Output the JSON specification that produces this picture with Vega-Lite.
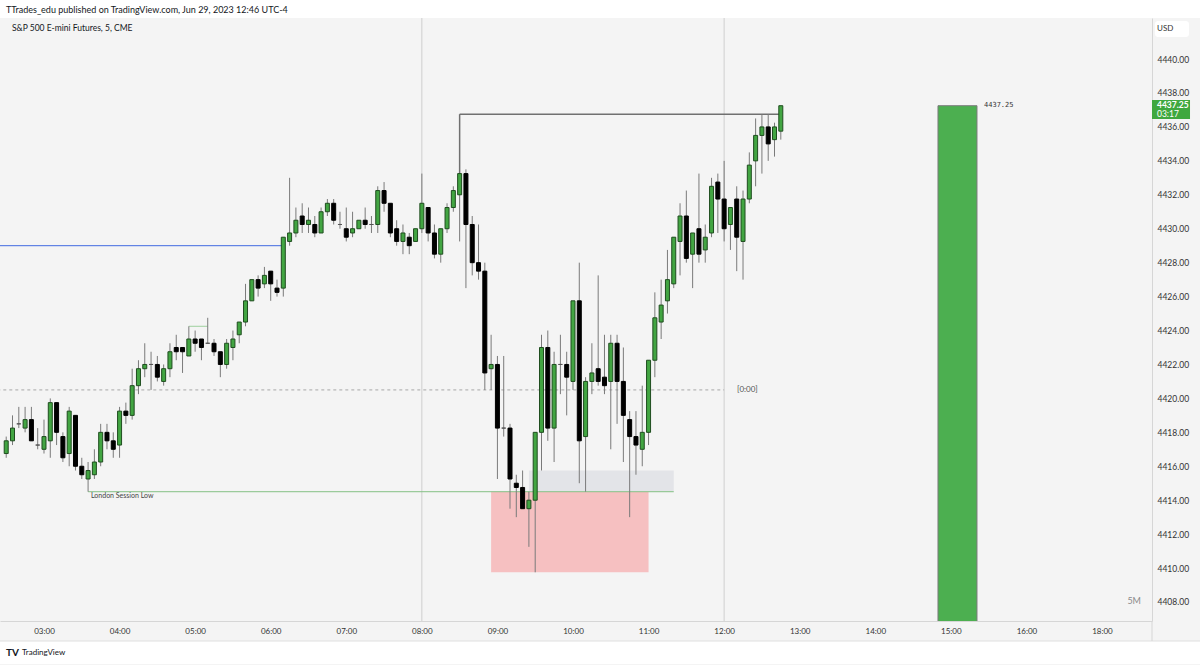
{
"$schema":"https://vega.github.io/schema/vega-lite/v6.json",
"width":1152,"height":603,
"autosize":{"type":"none"},
"padding":{"left":0,"top":18,"right":48,"bottom":44},
"background":"#f4f4f4",
"config":{"view":{"stroke":null},"font":"Lato"},
"datasets":{
"bars":[
{"t":"2023-06-29T02:30","o":4416.75,"h":4417.75,"l":4416.5,"c":4417.5},
{"t":"2023-06-29T02:35","o":4417.5,"h":4419,"l":4417.25,"c":4418.25},
{"t":"2023-06-29T02:40","o":4418.5,"h":4419.5,"l":4418.25,"c":4418.5},
{"t":"2023-06-29T02:45","o":4418.25,"h":4419.5,"l":4418,"c":4418.75},
{"t":"2023-06-29T02:50","o":4418.75,"h":4419.5,"l":4417.5,"c":4417.5},
{"t":"2023-06-29T02:55","o":4417.25,"h":4418.25,"l":4417,"c":4417.25},
{"t":"2023-06-29T03:00","o":4417,"h":4418.75,"l":4416.75,"c":4417.75},
{"t":"2023-06-29T03:05","o":4417.5,"h":4420,"l":4416.5,"c":4419.75},
{"t":"2023-06-29T03:10","o":4419.75,"h":4419.75,"l":4417.25,"c":4418},
{"t":"2023-06-29T03:15","o":4417.75,"h":4418,"l":4416.25,"c":4416.5},
{"t":"2023-06-29T03:20","o":4416.75,"h":4419.5,"l":4416,"c":4419.25},
{"t":"2023-06-29T03:25","o":4419,"h":4419,"l":4415.75,"c":4416},
{"t":"2023-06-29T03:30","o":4416,"h":4416.5,"l":4415.25,"c":4415.5},
{"t":"2023-06-29T03:35","o":4415.25,"h":4416.25,"l":4414.5,"c":4415.75},
{"t":"2023-06-29T03:40","o":4415.5,"h":4417,"l":4415.25,"c":4416.25},
{"t":"2023-06-29T03:45","o":4416.25,"h":4418.5,"l":4416,"c":4418},
{"t":"2023-06-29T03:50","o":4418,"h":4418.5,"l":4417,"c":4417.5},
{"t":"2023-06-29T03:55","o":4417.5,"h":4418,"l":4416.5,"c":4417},
{"t":"2023-06-29T04:00","o":4417.25,"h":4419.5,"l":4416.5,"c":4419.25},
{"t":"2023-06-29T04:05","o":4419.25,"h":4419.75,"l":4418.5,"c":4419},
{"t":"2023-06-29T04:10","o":4419,"h":4421.75,"l":4418.75,"c":4420.75},
{"t":"2023-06-29T04:15","o":4420.75,"h":4422.25,"l":4420.25,"c":4421.75},
{"t":"2023-06-29T04:20","o":4421.75,"h":4423.25,"l":4421.25,"c":4422},
{"t":"2023-06-29T04:25","o":4422,"h":4422.75,"l":4420.5,"c":4422},
{"t":"2023-06-29T04:30","o":4422,"h":4422.5,"l":4421,"c":4421.25},
{"t":"2023-06-29T04:35","o":4421,"h":4422,"l":4420.75,"c":4421.75},
{"t":"2023-06-29T04:40","o":4421.75,"h":4423.25,"l":4421.25,"c":4422.75},
{"t":"2023-06-29T04:45","o":4423,"h":4423.75,"l":4422.25,"c":4422.75},
{"t":"2023-06-29T04:50","o":4423,"h":4423,"l":4421.5,"c":4422.75},
{"t":"2023-06-29T04:55","o":4422.5,"h":4424.25,"l":4422.5,"c":4423.5},
{"t":"2023-06-29T05:00","o":4423.5,"h":4424,"l":4422.75,"c":4423.25},
{"t":"2023-06-29T05:05","o":4423.5,"h":4423.5,"l":4422.25,"c":4423},
{"t":"2023-06-29T05:10","o":4423.25,"h":4424.75,"l":4423.25,"c":4423.25},
{"t":"2023-06-29T05:15","o":4423.25,"h":4423.5,"l":4422.5,"c":4422.75},
{"t":"2023-06-29T05:20","o":4422.75,"h":4422.75,"l":4421.25,"c":4422},
{"t":"2023-06-29T05:25","o":4422,"h":4423.5,"l":4421.75,"c":4423.25},
{"t":"2023-06-29T05:30","o":4423,"h":4424,"l":4422.25,"c":4423.5},
{"t":"2023-06-29T05:35","o":4423.75,"h":4424.5,"l":4423.25,"c":4424.5},
{"t":"2023-06-29T05:40","o":4424.5,"h":4426.75,"l":4424.25,"c":4425.75},
{"t":"2023-06-29T05:45","o":4425.75,"h":4427,"l":4425.75,"c":4427},
{"t":"2023-06-29T05:50","o":4427,"h":4427.25,"l":4426,"c":4426.5},
{"t":"2023-06-29T05:55","o":4426.75,"h":4427.75,"l":4426.5,"c":4427.25},
{"t":"2023-06-29T06:00","o":4427.5,"h":4427.5,"l":4425.75,"c":4426.75},
{"t":"2023-06-29T06:05","o":4426.5,"h":4427,"l":4426,"c":4426.25},
{"t":"2023-06-29T06:10","o":4426.5,"h":4429.5,"l":4426,"c":4429.5},
{"t":"2023-06-29T06:15","o":4429.25,"h":4433,"l":4429,"c":4429.75},
{"t":"2023-06-29T06:20","o":4429.75,"h":4431.25,"l":4429.5,"c":4430.5},
{"t":"2023-06-29T06:25","o":4430.75,"h":4431.5,"l":4429.75,"c":4430.25},
{"t":"2023-06-29T06:30","o":4430.25,"h":4431.25,"l":4429.75,"c":4430.5},
{"t":"2023-06-29T06:35","o":4430.25,"h":4430.75,"l":4429.5,"c":4429.75},
{"t":"2023-06-29T06:40","o":4429.75,"h":4431.25,"l":4429.75,"c":4431},
{"t":"2023-06-29T06:45","o":4431,"h":4431.75,"l":4430.75,"c":4431.5},
{"t":"2023-06-29T06:50","o":4431.5,"h":4431.75,"l":4430.25,"c":4430.5},
{"t":"2023-06-29T06:55","o":4430.25,"h":4431,"l":4430,"c":4430.25},
{"t":"2023-06-29T07:00","o":4430,"h":4431.25,"l":4429.25,"c":4429.5},
{"t":"2023-06-29T07:05","o":4429.75,"h":4431,"l":4429.5,"c":4430},
{"t":"2023-06-29T07:10","o":4430,"h":4430.5,"l":4430,"c":4430.5},
{"t":"2023-06-29T07:15","o":4430.5,"h":4431.25,"l":4430,"c":4430.25},
{"t":"2023-06-29T07:20","o":4430.25,"h":4430.75,"l":4429.75,"c":4430.25},
{"t":"2023-06-29T07:25","o":4430.25,"h":4432.5,"l":4429.75,"c":4432.25},
{"t":"2023-06-29T07:30","o":4432.25,"h":4432.75,"l":4431,"c":4431.5},
{"t":"2023-06-29T07:35","o":4431.5,"h":4431.5,"l":4429.5,"c":4429.75},
{"t":"2023-06-29T07:40","o":4430,"h":4430.5,"l":4429,"c":4429.25},
{"t":"2023-06-29T07:45","o":4429.25,"h":4430.25,"l":4428.5,"c":4429.75},
{"t":"2023-06-29T07:50","o":4429.5,"h":4429.75,"l":4428.5,"c":4429},
{"t":"2023-06-29T07:55","o":4429.25,"h":4430,"l":4429.25,"c":4430},
{"t":"2023-06-29T08:00","o":4430,"h":4433.25,"l":4429.75,"c":4431.5},
{"t":"2023-06-29T08:05","o":4431.25,"h":4431.25,"l":4429.25,"c":4429.75},
{"t":"2023-06-29T08:10","o":4429.75,"h":4430.25,"l":4428.25,"c":4428.5},
{"t":"2023-06-29T08:15","o":4428.5,"h":4430,"l":4428,"c":4430},
{"t":"2023-06-29T08:20","o":4430,"h":4431.5,"l":4429.75,"c":4431.25},
{"t":"2023-06-29T08:25","o":4431.25,"h":4432.5,"l":4431,"c":4432.25},
{"t":"2023-06-29T08:30","o":4432,"h":4433.25,"l":4429.25,"c":4433.25},
{"t":"2023-06-29T08:35","o":4433.25,"h":4433.5,"l":4426.5,"c":4430.25},
{"t":"2023-06-29T08:40","o":4430.25,"h":4430.75,"l":4427.25,"c":4428},
{"t":"2023-06-29T08:45","o":4428,"h":4430.25,"l":4427,"c":4427.5},
{"t":"2023-06-29T08:50","o":4427.5,"h":4428,"l":4420.5,"c":4421.5},
{"t":"2023-06-29T08:55","o":4421.75,"h":4423.75,"l":4420.5,"c":4422},
{"t":"2023-06-29T09:00","o":4422,"h":4422.5,"l":4415.25,"c":4418.25},
{"t":"2023-06-29T09:05","o":4418.25,"h":4422.5,"l":4417.75,"c":4418.25},
{"t":"2023-06-29T09:10","o":4418.25,"h":4418.5,"l":4413.5,"c":4415.25},
{"t":"2023-06-29T09:15","o":4415,"h":4415.5,"l":4413,"c":4414.75},
{"t":"2023-06-29T09:20","o":4414.75,"h":4415.75,"l":4413.5,"c":4413.5},
{"t":"2023-06-29T09:25","o":4413.5,"h":4414.5,"l":4411.25,"c":4414},
{"t":"2023-06-29T09:30","o":4414,"h":4418,"l":4409.75,"c":4418},
{"t":"2023-06-29T09:35","o":4418,"h":4423.75,"l":4415.75,"c":4423},
{"t":"2023-06-29T09:40","o":4423,"h":4424,"l":4417.5,"c":4418.25},
{"t":"2023-06-29T09:45","o":4418.25,"h":4422.75,"l":4416.25,"c":4422},
{"t":"2023-06-29T09:50","o":4422,"h":4423.75,"l":4420.25,"c":4422},
{"t":"2023-06-29T09:55","o":4422,"h":4422.75,"l":4419,"c":4421.25},
{"t":"2023-06-29T10:00","o":4421,"h":4425.75,"l":4420.5,"c":4425.75},
{"t":"2023-06-29T10:05","o":4425.75,"h":4428,"l":4415,"c":4417.5},
{"t":"2023-06-29T10:10","o":4417.75,"h":4421.25,"l":4414.5,"c":4421},
{"t":"2023-06-29T10:15","o":4421,"h":4423.25,"l":4420.25,"c":4421.5},
{"t":"2023-06-29T10:20","o":4421.75,"h":4427.25,"l":4420.75,"c":4421},
{"t":"2023-06-29T10:25","o":4421.25,"h":4423.75,"l":4420.25,"c":4420.75},
{"t":"2023-06-29T10:30","o":4421,"h":4423.75,"l":4417,"c":4423.25},
{"t":"2023-06-29T10:35","o":4423.25,"h":4423.75,"l":4418.5,"c":4421},
{"t":"2023-06-29T10:40","o":4421,"h":4423,"l":4416.25,"c":4419},
{"t":"2023-06-29T10:45","o":4418.75,"h":4419.25,"l":4413,"c":4417.75},
{"t":"2023-06-29T10:50","o":4417.75,"h":4419.25,"l":4415.5,"c":4417.25},
{"t":"2023-06-29T10:55","o":4417,"h":4420.75,"l":4416,"c":4418},
{"t":"2023-06-29T11:00","o":4418,"h":4422.25,"l":4417.25,"c":4422.25},
{"t":"2023-06-29T11:05","o":4422.25,"h":4426.25,"l":4421.25,"c":4424.75},
{"t":"2023-06-29T11:10","o":4424.5,"h":4427,"l":4423.5,"c":4425.5},
{"t":"2023-06-29T11:15","o":4425.75,"h":4428.75,"l":4425,"c":4427},
{"t":"2023-06-29T11:20","o":4426.75,"h":4429.5,"l":4426.5,"c":4429.5},
{"t":"2023-06-29T11:25","o":4429.25,"h":4431.5,"l":4427.25,"c":4430.75},
{"t":"2023-06-29T11:30","o":4430.75,"h":4432.25,"l":4428,"c":4428.25},
{"t":"2023-06-29T11:35","o":4428.5,"h":4429.75,"l":4426.5,"c":4429.75},
{"t":"2023-06-29T11:40","o":4430,"h":4433.25,"l":4428,"c":4428.5},
{"t":"2023-06-29T11:45","o":4428.75,"h":4430.25,"l":4428,"c":4429.5},
{"t":"2023-06-29T11:50","o":4429.75,"h":4433,"l":4429.5,"c":4432.5},
{"t":"2023-06-29T11:55","o":4432.75,"h":4433.25,"l":4429.75,"c":4431.75},
{"t":"2023-06-29T12:00","o":4431.75,"h":4434,"l":4429.25,"c":4430},
{"t":"2023-06-29T12:05","o":4430.25,"h":4431.25,"l":4428.75,"c":4431.25},
{"t":"2023-06-29T12:10","o":4431.75,"h":4432.5,"l":4427.5,"c":4429.5},
{"t":"2023-06-29T12:15","o":4429.25,"h":4432.25,"l":4427,"c":4431.75},
{"t":"2023-06-29T12:20","o":4431.75,"h":4434.5,"l":4431.5,"c":4433.75},
{"t":"2023-06-29T12:25","o":4434,"h":4436.5,"l":4432.5,"c":4435.5},
{"t":"2023-06-29T12:30","o":4435.5,"h":4436.75,"l":4433.25,"c":4436},
{"t":"2023-06-29T12:35","o":4436,"h":4436.75,"l":4434,"c":4435},
{"t":"2023-06-29T12:40","o":4435.25,"h":4436.25,"l":4434.25,"c":4436},
{"t":"2023-06-29T12:45","o":4435.75,"h":4437.25,"l":4435.25,"c":4437.25}
],
"sessions":[{"t":"2023-06-29T08:00"},{"t":"2023-06-29T12:00"}]
},
"layer":[
{"data":{"values":[{}]},"mark":{"type":"rect","color":"#ffffff","clip":false},
 "encoding":{
  "x":{"datum":{"year":2023,"month":6,"date":29,"hours":0},"type":"temporal",
   "scale":{"domain":[{"year":2023,"month":6,"date":29,"hours":2,"minutes":25,"seconds":4},{"year":2023,"month":6,"date":29,"hours":17,"minutes":39,"seconds":43}],"nice":false,"padding":0},
   "axis":{"title":null,"grid":false,"ticks":false,"tickSize":0,"labelPadding":6,"labelFontSize":8,"labelColor":"#333333","labelFont":"Lato","domainColor":"#d6d6d6","labelOverlap":false,"tickCount":40,
    "values":[{"year":2023,"month":6,"date":29,"hours":3},{"year":2023,"month":6,"date":29,"hours":4},{"year":2023,"month":6,"date":29,"hours":5},{"year":2023,"month":6,"date":29,"hours":6},{"year":2023,"month":6,"date":29,"hours":7},{"year":2023,"month":6,"date":29,"hours":8},{"year":2023,"month":6,"date":29,"hours":9},{"year":2023,"month":6,"date":29,"hours":10},{"year":2023,"month":6,"date":29,"hours":11},{"year":2023,"month":6,"date":29,"hours":12},{"year":2023,"month":6,"date":29,"hours":13},{"year":2023,"month":6,"date":29,"hours":14},{"year":2023,"month":6,"date":29,"hours":15},{"year":2023,"month":6,"date":29,"hours":16},{"year":2023,"month":6,"date":29,"hours":17}],
    "labelExpr":"hours(datum.value) == 17 ? '18:00' : timeFormat(datum.value, '%H:%M')"}},
  "x2":{"datum":{"year":2023,"month":6,"date":29,"hours":22}},
  "y":{"datum":4442.42,"type":"quantitative",
   "scale":{"domain":[4406.88,4442.42],"nice":false,"zero":false,"padding":0},
   "axis":{"title":null,"orient":"right","grid":false,"ticks":false,"tickSize":0,"labelPadding":5,"labelFontSize":8.5,"labelColor":"#333333","labelFont":"Lato","domainColor":"#d6d6d6","format":".2f","labelOverlap":false,"tickCount":40,
    "values":[4408,4410,4412,4414,4416,4418,4420,4422,4424,4426,4428,4430,4432,4434,4436,4438,4440]}},
  "y2":{"datum":4443.48}}},
{"data":{"values":[{}]},"mark":{"type":"rect","color":"#ffffff","clip":false},
 "encoding":{"x":{"datum":{"year":2023,"month":6,"date":29,"hours":0},"type":"temporal"},"x2":{"datum":{"year":2023,"month":6,"date":29,"hours":22}},"y":{"datum":4405.7,"type":"quantitative"},"y2":{"datum":4404.34}}},
{"data":{"values":[{}]},"mark":{"type":"rule","color":"#e0e0e0","clip":false},
 "encoding":{"x":{"datum":{"year":2023,"month":6,"date":29,"hours":0},"type":"temporal"},"x2":{"datum":{"year":2023,"month":6,"date":29,"hours":22}},"y":{"datum":4405.7,"type":"quantitative"}}},
{"data":{"values":[{}]},"mark":{"type":"rule","color":"#d6d6d6","clip":false},
 "encoding":{"x":{"datum":{"year":2023,"month":6,"date":29,"hours":17,"minutes":39,"seconds":43},"type":"temporal"},"y":{"datum":4406.88,"type":"quantitative"},"y2":{"datum":4405.7}}},
{"data":{"name":"sessions"},"mark":{"type":"rule","color":"#cfcfcf","strokeWidth":1},
 "encoding":{"x":{"field":"t","type":"temporal"}}},
{"data":{"values":[{}]},"mark":{"type":"rect","color":"#f6c0c1"},
 "encoding":{"x":{"datum":{"year":2023,"month":6,"date":29,"hours":8,"minutes":55},"type":"temporal"},"x2":{"datum":{"year":2023,"month":6,"date":29,"hours":11,"minutes":0}},"y":{"datum":4409.75,"type":"quantitative"},"y2":{"datum":4414.5}}},
{"data":{"values":[{}]},"mark":{"type":"rect","color":"#e3e4e8"},
 "encoding":{"x":{"datum":{"year":2023,"month":6,"date":29,"hours":9,"minutes":25},"type":"temporal"},"x2":{"datum":{"year":2023,"month":6,"date":29,"hours":11,"minutes":20}},"y":{"datum":4414.5,"type":"quantitative"},"y2":{"datum":4415.75}}},
{"data":{"values":[{}]},"mark":{"type":"rule","color":"#4169e1","strokeWidth":1,"clip":true},
 "encoding":{"x":{"datum":{"year":2023,"month":6,"date":29,"hours":0},"type":"temporal"},"x2":{"datum":{"year":2023,"month":6,"date":29,"hours":6,"minutes":10}},"y":{"datum":4429,"type":"quantitative"}}},
{"data":{"values":[{}]},"mark":{"type":"rule","color":"#a8a8a8","strokeWidth":1,"strokeDash":[3,3],"clip":true},
 "encoding":{"x":{"datum":{"year":2023,"month":6,"date":29,"hours":0},"type":"temporal"},"x2":{"datum":{"year":2023,"month":6,"date":29,"hours":12,"minutes":0}},"y":{"datum":4420.5,"type":"quantitative"}}},
{"data":{"values":[{}]},"mark":{"type":"rule","color":"#84c184","strokeWidth":1},
 "encoding":{"x":{"datum":{"year":2023,"month":6,"date":29,"hours":3,"minutes":35},"type":"temporal"},"x2":{"datum":{"year":2023,"month":6,"date":29,"hours":11,"minutes":20}},"y":{"datum":4414.5,"type":"quantitative"}}},
{"data":{"values":[{}]},"mark":{"type":"rule","color":"#9fd09f","strokeWidth":1},
 "encoding":{"x":{"datum":{"year":2023,"month":6,"date":29,"hours":4,"minutes":55},"type":"temporal"},"x2":{"datum":{"year":2023,"month":6,"date":29,"hours":5,"minutes":10}},"y":{"datum":4424.25,"type":"quantitative"}}},
{"data":{"values":[{}]},"mark":{"type":"rule","color":"#707070","strokeWidth":1.5},
 "encoding":{"x":{"datum":{"year":2023,"month":6,"date":29,"hours":8,"minutes":30},"type":"temporal"},"y":{"datum":4433.25,"type":"quantitative"},"y2":{"datum":4436.75}}},
{"data":{"values":[{}]},"mark":{"type":"rule","color":"#707070","strokeWidth":1.5},
 "encoding":{"x":{"datum":{"year":2023,"month":6,"date":29,"hours":8,"minutes":30},"type":"temporal"},"x2":{"datum":{"year":2023,"month":6,"date":29,"hours":12,"minutes":45}},"y":{"datum":4436.75,"type":"quantitative"}}},
{"data":{"values":[{}]},"mark":{"type":"rect","color":"#4caf50","stroke":"#7a7a7a","strokeWidth":1,"clip":true},
 "encoding":{"x":{"datum":{"year":2023,"month":6,"date":29,"hours":14,"minutes":49,"seconds":48},"type":"temporal"},"x2":{"datum":{"year":2023,"month":6,"date":29,"hours":15,"minutes":20,"seconds":45}},"y":{"datum":4437.25,"type":"quantitative"},"y2":{"datum":4400}}},
{"data":{"name":"bars"},
 "mark":{"type":"rule","color":"#7a7a7a","strokeWidth":1},
 "encoding":{"x":{"field":"t","type":"temporal"},"y":{"field":"l","type":"quantitative"},"y2":{"field":"h"}}},
{"data":{"name":"bars"},
 "mark":{"type":"bar","size":4,"strokeWidth":1},
 "encoding":{
  "x":{"field":"t","type":"temporal"},
  "y":{"field":"o","type":"quantitative"},
  "y2":{"field":"c"},
  "fill":{"condition":[{"test":"datum.c > datum.o","value":"#42a542"},{"test":"datum.c < datum.o","value":"#000000"}],"value":"#666666"},
  "stroke":{"condition":[{"test":"datum.c > datum.o","value":"#1f4d1f"},{"test":"datum.c < datum.o","value":"#000000"}],"value":"#555555"}}},
{"data":{"values":[{}]},"mark":{"type":"text","text":"TTrades_edu published on TradingView.com, Jun 29, 2023 12:46 UTC-4","align":"left","baseline":"middle","fontSize":9,"color":"#131722","font":"Lato","clip":false},
 "encoding":{"x":{"datum":{"year":2023,"month":6,"date":29,"hours":2,"minutes":29,"seconds":49},"type":"temporal"},"y":{"datum":4442.89,"type":"quantitative"}}},
{"data":{"values":[{}]},"mark":{"type":"text","text":"London Session Low","align":"left","baseline":"middle","fontSize":7,"color":"#444444","font":"Lato"},
 "encoding":{"x":{"datum":{"year":2023,"month":6,"date":29,"hours":3,"minutes":37,"seconds":19},"type":"temporal"},"y":{"datum":4414.22,"type":"quantitative"}}},
{"data":{"values":[{}]},"mark":{"type":"text","text":"[0:00]","align":"left","baseline":"middle","fontSize":8,"color":"#555555","font":"Lato"},
 "encoding":{"x":{"datum":{"year":2023,"month":6,"date":29,"hours":12,"minutes":10,"seconds":12},"type":"temporal"},"y":{"datum":4420.5,"type":"quantitative"}}},
{"data":{"values":[{}]},"mark":{"type":"text","text":"4437.25","align":"left","baseline":"middle","fontSize":7,"color":"#333333","font":"DejaVu Sans Mono"},
 "encoding":{"x":{"datum":{"year":2023,"month":6,"date":29,"hours":15,"minutes":26,"seconds":20},"type":"temporal"},"y":{"datum":4437.3,"type":"quantitative"}}},
{"data":{"values":[{}]},"mark":{"type":"text","text":"5M","align":"right","baseline":"middle","fontSize":9,"color":"#8a8a8a","font":"Lato"},
 "encoding":{"x":{"datum":{"year":2023,"month":6,"date":29,"hours":17,"minutes":30,"seconds":58},"type":"temporal"},"y":{"datum":4408.06,"type":"quantitative"}}},
{"data":{"values":[{}]},"mark":{"type":"text","text":"S&P 500 E-mini Futures, 5, CME","align":"left","baseline":"middle","fontSize":8.5,"color":"#131722","font":"Lato"},
 "encoding":{"x":{"datum":{"year":2023,"month":6,"date":29,"hours":2,"minutes":34,"seconds":36},"type":"temporal"},"y":{"datum":4441.83,"type":"quantitative"}}},
{"data":{"values":[{}]},"mark":{"type":"rect","color":"#3fa83f","clip":false},
 "encoding":{"x":{"datum":{"year":2023,"month":6,"date":29,"hours":17,"minutes":39,"seconds":43},"type":"temporal"},"x2":{"datum":{"year":2023,"month":6,"date":29,"hours":18,"minutes":9,"seconds":54}},"y":{"datum":4437.58,"type":"quantitative"},"y2":{"datum":4436.46}}},
{"data":{"values":[{}]},"mark":{"type":"text","text":"4437.25","align":"left","baseline":"middle","fontSize":8.5,"fontWeight":"bold","color":"#ffffff","font":"Lato","clip":false},
 "encoding":{"x":{"datum":{"year":2023,"month":6,"date":29,"hours":17,"minutes":43,"seconds":41},"type":"temporal"},"y":{"datum":4437.29,"type":"quantitative"}}},
{"data":{"values":[{}]},"mark":{"type":"text","text":"03:17","align":"left","baseline":"middle","fontSize":8.5,"color":"#ffffff","font":"Lato","clip":false},
 "encoding":{"x":{"datum":{"year":2023,"month":6,"date":29,"hours":17,"minutes":43,"seconds":41},"type":"temporal"},"y":{"datum":4436.76,"type":"quantitative"}}},
{"data":{"values":[{}]},"mark":{"type":"rect","color":"#ffffff","cornerRadius":3,"clip":false},
 "encoding":{"x":{"datum":{"year":2023,"month":6,"date":29,"hours":17,"minutes":42,"seconds":0},"type":"temporal"},"x2":{"datum":{"year":2023,"month":6,"date":29,"hours":18,"minutes":9,"seconds":7}},"y":{"datum":4442.24,"type":"quantitative"},"y2":{"datum":4441.3}}},
{"data":{"values":[{}]},"mark":{"type":"text","text":"USD","align":"left","baseline":"middle","fontSize":8,"color":"#333333","font":"Lato","clip":false},
 "encoding":{"x":{"datum":{"year":2023,"month":6,"date":29,"hours":17,"minutes":43,"seconds":41},"type":"temporal"},"y":{"datum":4441.77,"type":"quantitative"}}},
{"data":{"values":[{}]},"mark":{"type":"text","text":"TV","align":"left","baseline":"middle","fontSize":10,"fontWeight":"bold","color":"#131722","font":"Lato","clip":false},
 "encoding":{"x":{"datum":{"year":2023,"month":6,"date":29,"hours":2,"minutes":29,"seconds":45},"type":"temporal"},"y":{"datum":4405.0,"type":"quantitative"}}},
{"data":{"values":[{}]},"mark":{"type":"text","text":"TradingView","align":"left","baseline":"middle","fontSize":8,"color":"#131722","font":"Lato","clip":false},
 "encoding":{"x":{"datum":{"year":2023,"month":6,"date":29,"hours":2,"minutes":42,"seconds":33},"type":"temporal"},"y":{"datum":4405.0,"type":"quantitative"}}}
]
}
